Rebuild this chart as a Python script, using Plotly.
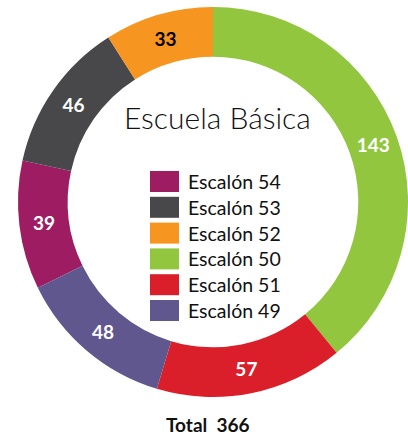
import plotly.graph_objects as go

# legend order == clockwise slice order starting at the magenta slice
labels = ["Escalón 54", "Escalón 53", "Escalón 52", "Escalón 50", "Escalón 51", "Escalón 49"]
values = [39, 46, 33, 143, 57, 48]
colors = ["#9E1D62", "#48484A", "#F6951F", "#93C63F", "#DA1F2A", "#5F578D"]
text_colors = ["white", "white", "black", "white", "white", "white"]
title = "Escuela Básica"

W, H = 408, 439
total = sum(values)
# green slice (Escalón 50) has to start at 12 o'clock
offset = sum(values[:labels.index("Escalón 50")]) / total * 360

fig = go.Figure()
fig.add_trace(
    go.Pie(
        labels=labels,
        values=values,
        hole=0.745,
        sort=False,
        direction="clockwise",
        rotation=-offset,
        marker=dict(colors=colors, line=dict(width=0)),
        textinfo="value",
        textposition="inside",
        insidetextorientation="horizontal",
        textfont=dict(family="Lato", size=19, color=text_colors, weight="bold"),
        domain=dict(x=[18 / W, 1], y=[(H - 397) / H, (H - 7) / H]),
        showlegend=False,
        hoverinfo="label+value",
    )
)

# legend drawn inside the hole
x0, sw, sh = 150, 29, 21
y_first, step = 181.5, 25.8
for i, (lab, col) in enumerate(zip(labels, colors)):
    yc = y_first + i * step
    fig.add_shape(
        type="rect", xref="paper", yref="paper",
        x0=x0 / W, x1=(x0 + sw) / W,
        y0=(H - yc - sh / 2) / H, y1=(H - yc + sh / 2) / H,
        fillcolor=col, line=dict(width=0),
    )
    fig.add_annotation(
        x=(x0 + sw + 7) / W, y=(H - yc) / H, xref="paper", yref="paper",
        text=lab, showarrow=False, xanchor="left", yanchor="middle",
        font=dict(family="Lato", size=19.5, color="#111111"),
    )

fig.add_annotation(
    x=217 / W, y=(H - 117) / H, xref="paper", yref="paper",
    text=title, showarrow=False, xanchor="center", yanchor="middle",
    font=dict(family="Lato", size=30, color="#111111", weight=300),
)
fig.add_annotation(
    x=208 / W, y=(H - 424) / H, xref="paper", yref="paper",
    text=f"<b>Total  {total}</b>", showarrow=False, xanchor="center", yanchor="middle",
    font=dict(family="Lato", size=19, color="#111111"),
)

fig.update_layout(
    width=W, height=H,
    margin=dict(l=0, r=0, t=0, b=0),
    paper_bgcolor="white",
    plot_bgcolor="white",
)

# drop the default 8px body margin so the figure sits at the window corner
fig.write_html(
    "out.html",
    config={"displayModeBar": False},
    post_script="document.body.style.margin = '0';",
)
